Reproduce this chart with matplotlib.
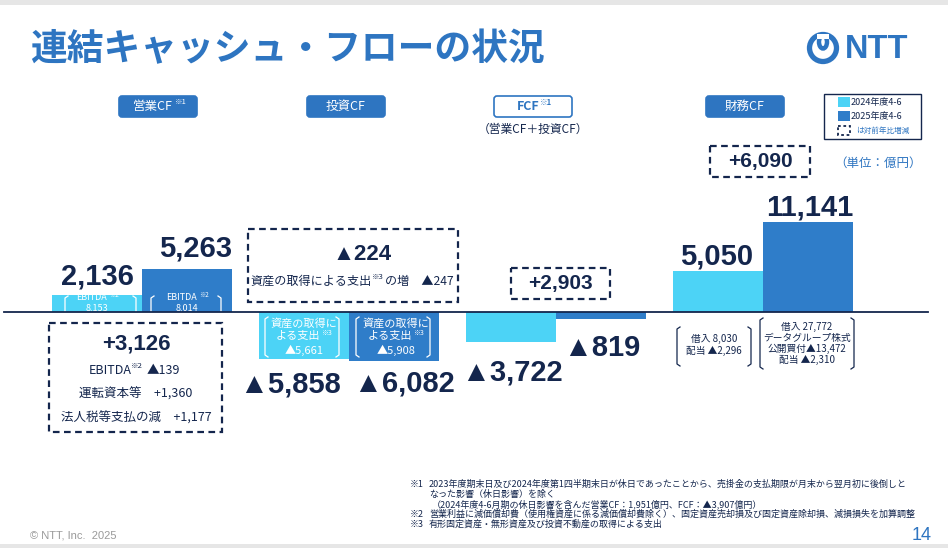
import numpy as np
import matplotlib.pyplot as plt
from matplotlib.patches import Rectangle, FancyBboxPatch, Circle, Ellipse

W, H = 948, 548

# data (億円)
categories = ["営業CF", "投資CF", "FCF", "財務CF"]
fy2024 = [2136, -5858, -3722, 5050]
fy2025 = [5263, -6082, -819, 11141]
labels2024 = ["2,136", "▲5,858", "▲3,722", "5,050"]
labels2025 = ["5,263", "▲6,082", "▲819", "11,141"]
deltas = ["+3,126", "▲224", "+2,903", "+6,090"]
series_names = ["2024年度4-6", "2025年度4-6"]

LIGHT = "#4CD3F6"
DARK = "#2F7DC9"
BLUE = "#2E75C1"
NAVY = "#14264D"
GREY = "#E6E6E6"

JP = ["Noto Sans CJK JP", "DejaVu Sans"]
NUM = ["Liberation Sans", "Noto Sans CJK JP", "DejaVu Sans"]

# geometry of the bar axes (pixels)
ZERO_PX = 312
PX_PER_UNIT = 0.0081
GROUP0_PX = 142
GROUP_STEP = 207
BAR_W = 90 / GROUP_STEP

fig = plt.figure(figsize=(W / 100, H / 100), dpi=100)
fig.patch.set_facecolor("white")

ax = fig.add_axes([0, 0, 1, 1], zorder=1)
ax.set_xlim(-GROUP0_PX / GROUP_STEP, (W - GROUP0_PX) / GROUP_STEP)
ax.set_ylim((ZERO_PX - H) / PX_PER_UNIT, ZERO_PX / PX_PER_UNIT)
ax.axis("off")

x = np.arange(len(categories))
b1 = ax.bar(x - BAR_W / 2, fy2024, BAR_W, color=LIGHT, linewidth=0)
b2 = ax.bar(x + BAR_W / 2, fy2025, BAR_W, color=DARK, linewidth=0)

# value labels, offsets in pixels from the bar end
off2024 = [(0, 18), (-14, -25), (1, -30), (-1, 15)]
off2025 = [(9, 21), (10, -22), (1, -29), (2, 14)]
for rects, labs, offs in [(b1, labels2024, off2024), (b2, labels2025, off2025)]:
    for r, lab, (dx, dy) in zip(rects, labs, offs):
        xc = r.get_x() + r.get_width() / 2
        yend = r.get_y() + r.get_height()
        ax.annotate(lab, (xc, yend), xytext=(dx, dy), textcoords="offset pixels",
                    ha="center", va="center", fontsize=21, fontweight="bold",
                    color=NAVY, family=NUM)

# overlay in pixel coordinates
ov = fig.add_axes([0, 0, 1, 1], zorder=2)
ov.set_xlim(0, W)
ov.set_ylim(H, 0)
ov.axis("off")
ov.patch.set_alpha(0)

ov.add_patch(Rectangle((0, 0), W, 5, color=GREY, lw=0))
ov.add_patch(Rectangle((0, H - 4), W, 4, color=GREY, lw=0))
ov.plot([4, 928], [ZERO_PX, ZERO_PX], color=NAVY, lw=1.3, zorder=5)

# title and logo
ov.text(30, 50, "連結キャッシュ・フローの状況", fontsize=26.5, fontweight="bold",
        color=BLUE, family=JP, va="center", ha="left")
ov.add_patch(Circle((823, 48), 13.5, fill=False, ec=BLUE, lw=3.8))
ov.add_patch(Ellipse((823, 42), 8, 13, fill=False, ec=BLUE, lw=3.2))
ov.add_patch(Rectangle((817, 34), 12, 5, color="white", lw=0))
ov.text(877, 49, "NTT", fontsize=23.5, fontweight="bold", color=BLUE, family=NUM,
        ha="center", va="center")


def header(cx, text, filled=True, sup=None, sup_dx=12):
    bx = FancyBboxPatch((cx - 38, 97), 76, 19, boxstyle="round,pad=1,rounding_size=3",
                        fc=BLUE if filled else "white", ec=BLUE, lw=1.2)
    ov.add_patch(bx)
    c = "white" if filled else BLUE
    w = "normal" if filled else "bold"
    ov.text(cx - (5 if sup else 0), 106.5, text, fontsize=9, color=c, family=JP,
            ha="center", va="center", fontweight=w)
    if sup:
        ov.text(cx + sup_dx, 102, sup, fontsize=5.5, color=c, family=JP,
                ha="left", va="center", fontweight=w)


header(158, "営業CF", sup="※1", sup_dx=17)
header(346, "投資CF")
header(533, "FCF", filled=False, sup="※1", sup_dx=7)
header(745, "財務CF")
ov.text(533, 129, "（営業CF＋投資CF）", fontsize=8.5, color=NAVY, family=JP,
        ha="center", va="center")

# legend
ov.add_patch(Rectangle((824, 94), 97, 45, fill=False, ec=NAVY, lw=1))
ov.add_patch(Rectangle((838, 97), 12, 10, color=LIGHT, lw=0))
ov.add_patch(Rectangle((838, 111), 12, 10, color=DARK, lw=0))
ov.add_patch(Rectangle((838, 126), 12, 9, fill=False, ec=NAVY, lw=1.3, ls=(0, (1.5, 1.5))))
ov.text(851, 102, series_names[0], fontsize=6.5, color=NAVY, family=JP, va="center")
ov.text(851, 116, series_names[1], fontsize=6.5, color=NAVY, family=JP, va="center")
ov.text(856, 131, "は対前年比増減", fontsize=5.5, color=BLUE, family=JP, va="center")
ov.text(878, 163, "（単位：億円）", fontsize=9, color=BLUE, family=JP, ha="center", va="center")


def dbox(x0, y0, x1, y1):
    ov.add_patch(Rectangle((x0, y0), x1 - x0, y1 - y0, fill=False, ec=NAVY,
                           lw=1.6, ls=(0, (3, 2)), zorder=4))


def bracket(x0, x1, y0, y1, color, lw=0.9, hook=3):
    ov.plot([x0 + hook, x0, x0, x0 + hook], [y0, y0 + 2, y1 - 2, y1], color=color, lw=lw)
    ov.plot([x1 - hook, x1, x1, x1 - hook], [y0, y0 + 2, y1 - 2, y1], color=color, lw=lw)


# delta boxes
dbox(49, 323, 222, 432)
ov.text(136, 344, deltas[0], fontsize=16, fontweight="bold", color=NAVY, family=NUM,
        ha="center", va="center")
ov.text(132, 370, "EBITDA", fontsize=9, color=NAVY, family=JP, ha="right", va="center")
ov.text(131, 366, "※2", fontsize=5.5, color=NAVY, family=JP, ha="left", va="center")
ov.text(147, 370, "▲139", fontsize=9, color=NAVY, family=JP, ha="left", va="center")
ov.text(136, 394, "運転資本等　+1,360", fontsize=9, color=NAVY, family=JP, ha="center", va="center")
ov.text(136, 418, "法人税等支払の減　+1,177", fontsize=9, color=NAVY, family=JP,
        ha="center", va="center")

dbox(248, 229, 458, 302)
ov.text(362, 254, deltas[1], fontsize=16, fontweight="bold", color=NAVY, family=NUM,
        ha="center", va="center")
ov.text(251, 281, "資産の取得による支出", fontsize=8.7, color=NAVY, family=JP, ha="left", va="center")
ov.text(372, 277, "※3", fontsize=5.5, color=NAVY, family=JP, ha="left", va="center")
ov.text(385, 281, "の増　▲247", fontsize=8.7, color=NAVY, family=JP, ha="left", va="center")

dbox(511, 268, 610, 299)
ov.text(560, 284, deltas[2], fontsize=15, fontweight="bold", color=NAVY, family=NUM,
        ha="center", va="center")

dbox(710, 146, 810, 177)
ov.text(760, 162, deltas[3], fontsize=15, fontweight="bold", color=NAVY, family=NUM,
        ha="center", va="center")

# labels inside bars
for cx, val, bl in [(97, "8,153", (65, 136)), (187, "8,014", (151, 221))]:
    ov.text(cx - 5, 298, "EBITDA", fontsize=6.5, color="white", family=JP, ha="center", va="center")
    ov.text(cx + 12, 295, "※2", fontsize=4.5, color="white", family=JP, ha="left", va="center")
    ov.text(cx, 308, val, fontsize=6.5, color="white", family=JP, ha="center", va="center")
    bracket(bl[0], bl[1], 296, 316, "white")

for cx, val, bl in [(304, "▲5,661", (265, 339)), (396, "▲5,908", (356, 430))]:
    ov.text(cx, 323, "資産の取得に", fontsize=8, color="white", family=JP, ha="center", va="center")
    ov.text(cx - 6, 336, "よる支出", fontsize=8, color="white", family=JP, ha="center", va="center")
    ov.text(cx + 17, 333, "※3", fontsize=5, color="white", family=JP, ha="left", va="center")
    ov.text(cx, 350, val, fontsize=8, color="white", family=JP, ha="center", va="center")
    bracket(bl[0], bl[1], 317, 357, "white")

# financing notes
bracket(677, 751, 327, 366, NAVY)
ov.text(714, 339, "借入 8,030", fontsize=7, color=NAVY, family=JP, ha="center", va="center")
ov.text(714, 351, "配当 ▲2,296", fontsize=7, color=NAVY, family=JP, ha="center", va="center")
bracket(760, 854, 318, 369, NAVY)
for yy, t in zip([327, 338, 349, 360], ["借入 27,772", "データグループ株式", "公開買付▲13,472", "配当 ▲2,310"]):
    ov.text(807, yy, t, fontsize=7, color=NAVY, family=JP, ha="center", va="center")

# footnotes
notes = [
    (410, 484, "※1"),
    (429, 484, "2023年度期末日及び2024年度第1四半期末日が休日であったことから、売掛金の支払期限が月末から翌月初に後倒しと"),
    (429, 494, "なった影響（休日影響）を除く"),
    (432, 504.5, "（2024年度4-6月期の休日影響を含んだ営業CF：1,951億円、FCF：▲3,907億円）"),
    (410, 514.5, "※2"),
    (429, 514.5, "営業利益に減価償却費（使用権資産に係る減価償却費除く）、固定資産売却損及び固定資産除却損、減損損失を加算調整"),
    (410, 524.5, "※3"),
    (429, 524.5, "有形固定資産・無形資産及び投資不動産の取得による支出"),
]
for xx, yy, t in notes:
    ov.text(xx, yy, t, fontsize=6.5, color=NAVY, family=JP, ha="left", va="center")

ov.text(932, 536, "14", fontsize=13, color=BLUE, family=NUM, ha="right", va="center")
ov.text(30, 536, "© NTT, Inc.  2025", fontsize=8, color="#9A9A9A", family=NUM, ha="left", va="center")

fig.savefig("out.png", dpi=100)
